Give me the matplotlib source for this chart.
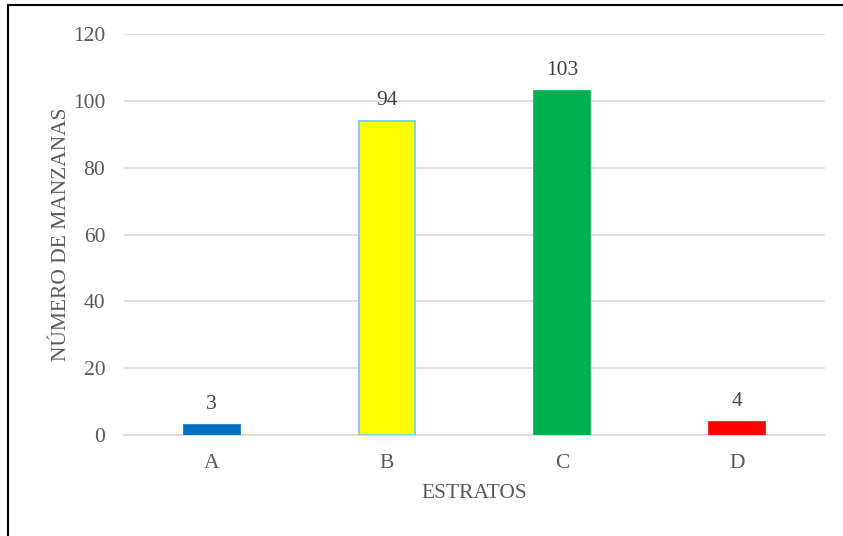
import matplotlib.pyplot as plt
from matplotlib.lines import Line2D

plt.rcParams["font.family"] = ["Liberation Serif", "DejaVu Serif"]

categories = ["A", "B", "C", "D"]
values = [3, 94, 103, 4]
bar_colors = ["#0070C0", "#FFFF00", "#00B050", "#FF0000"]
edge_colors = ["#0070C0", "#6CCBF2", "#00B050", "#FF0000"]
yticks = [0, 20, 40, 60, 80, 100, 120]

TEXT = "#595959"
GRID = "#D9D9D9"
FS = 15.5

fig = plt.figure(figsize=(8.43, 5.36), dpi=100)
ax = fig.add_axes([0.147, 0.1884, 0.8316, 0.7482])

x = range(len(categories))
ax.bar(x, values, width=0.32, color=bar_colors, edgecolor=edge_colors,
       linewidth=1.2, zorder=3)
for xi, v in zip(x, values):
    ax.text(xi, v + 3.3, str(v), ha="center", va="bottom", fontsize=FS, color="#404040")

ax.set_xlim(-0.5, 3.5)
ax.set_ylim(0, 120)
ax.set_yticks(yticks)
ax.set_xticks(list(x), categories)
ax.yaxis.grid(True, color=GRID, linewidth=1.2, zorder=0)
ax.tick_params(axis="both", length=0, labelsize=FS, colors=TEXT)
ax.tick_params(axis="x", pad=13.5)
ax.tick_params(axis="y", pad=13.5)
for side in ["top", "right", "left"]:
    ax.spines[side].set_visible(False)
ax.spines["bottom"].set_color(GRID)
ax.spines["bottom"].set_linewidth(1.2)

ax.set_xlabel("ESTRATOS", fontsize=FS, color=TEXT, labelpad=8)
ax.set_ylabel("NÚMERO DE MANZANAS", fontsize=FS, color=TEXT, labelpad=1.5)

# border lines (left and top only)
fig.add_artist(Line2D([8 / 843, 8 / 843], [0, 1 - 5 / 536], transform=fig.transFigure,
                      color="black", linewidth=1.5))
fig.add_artist(Line2D([8 / 843, 1], [1 - 5 / 536, 1 - 5 / 536], transform=fig.transFigure,
                      color="black", linewidth=1.5))

fig.savefig("out.png", dpi=100)
